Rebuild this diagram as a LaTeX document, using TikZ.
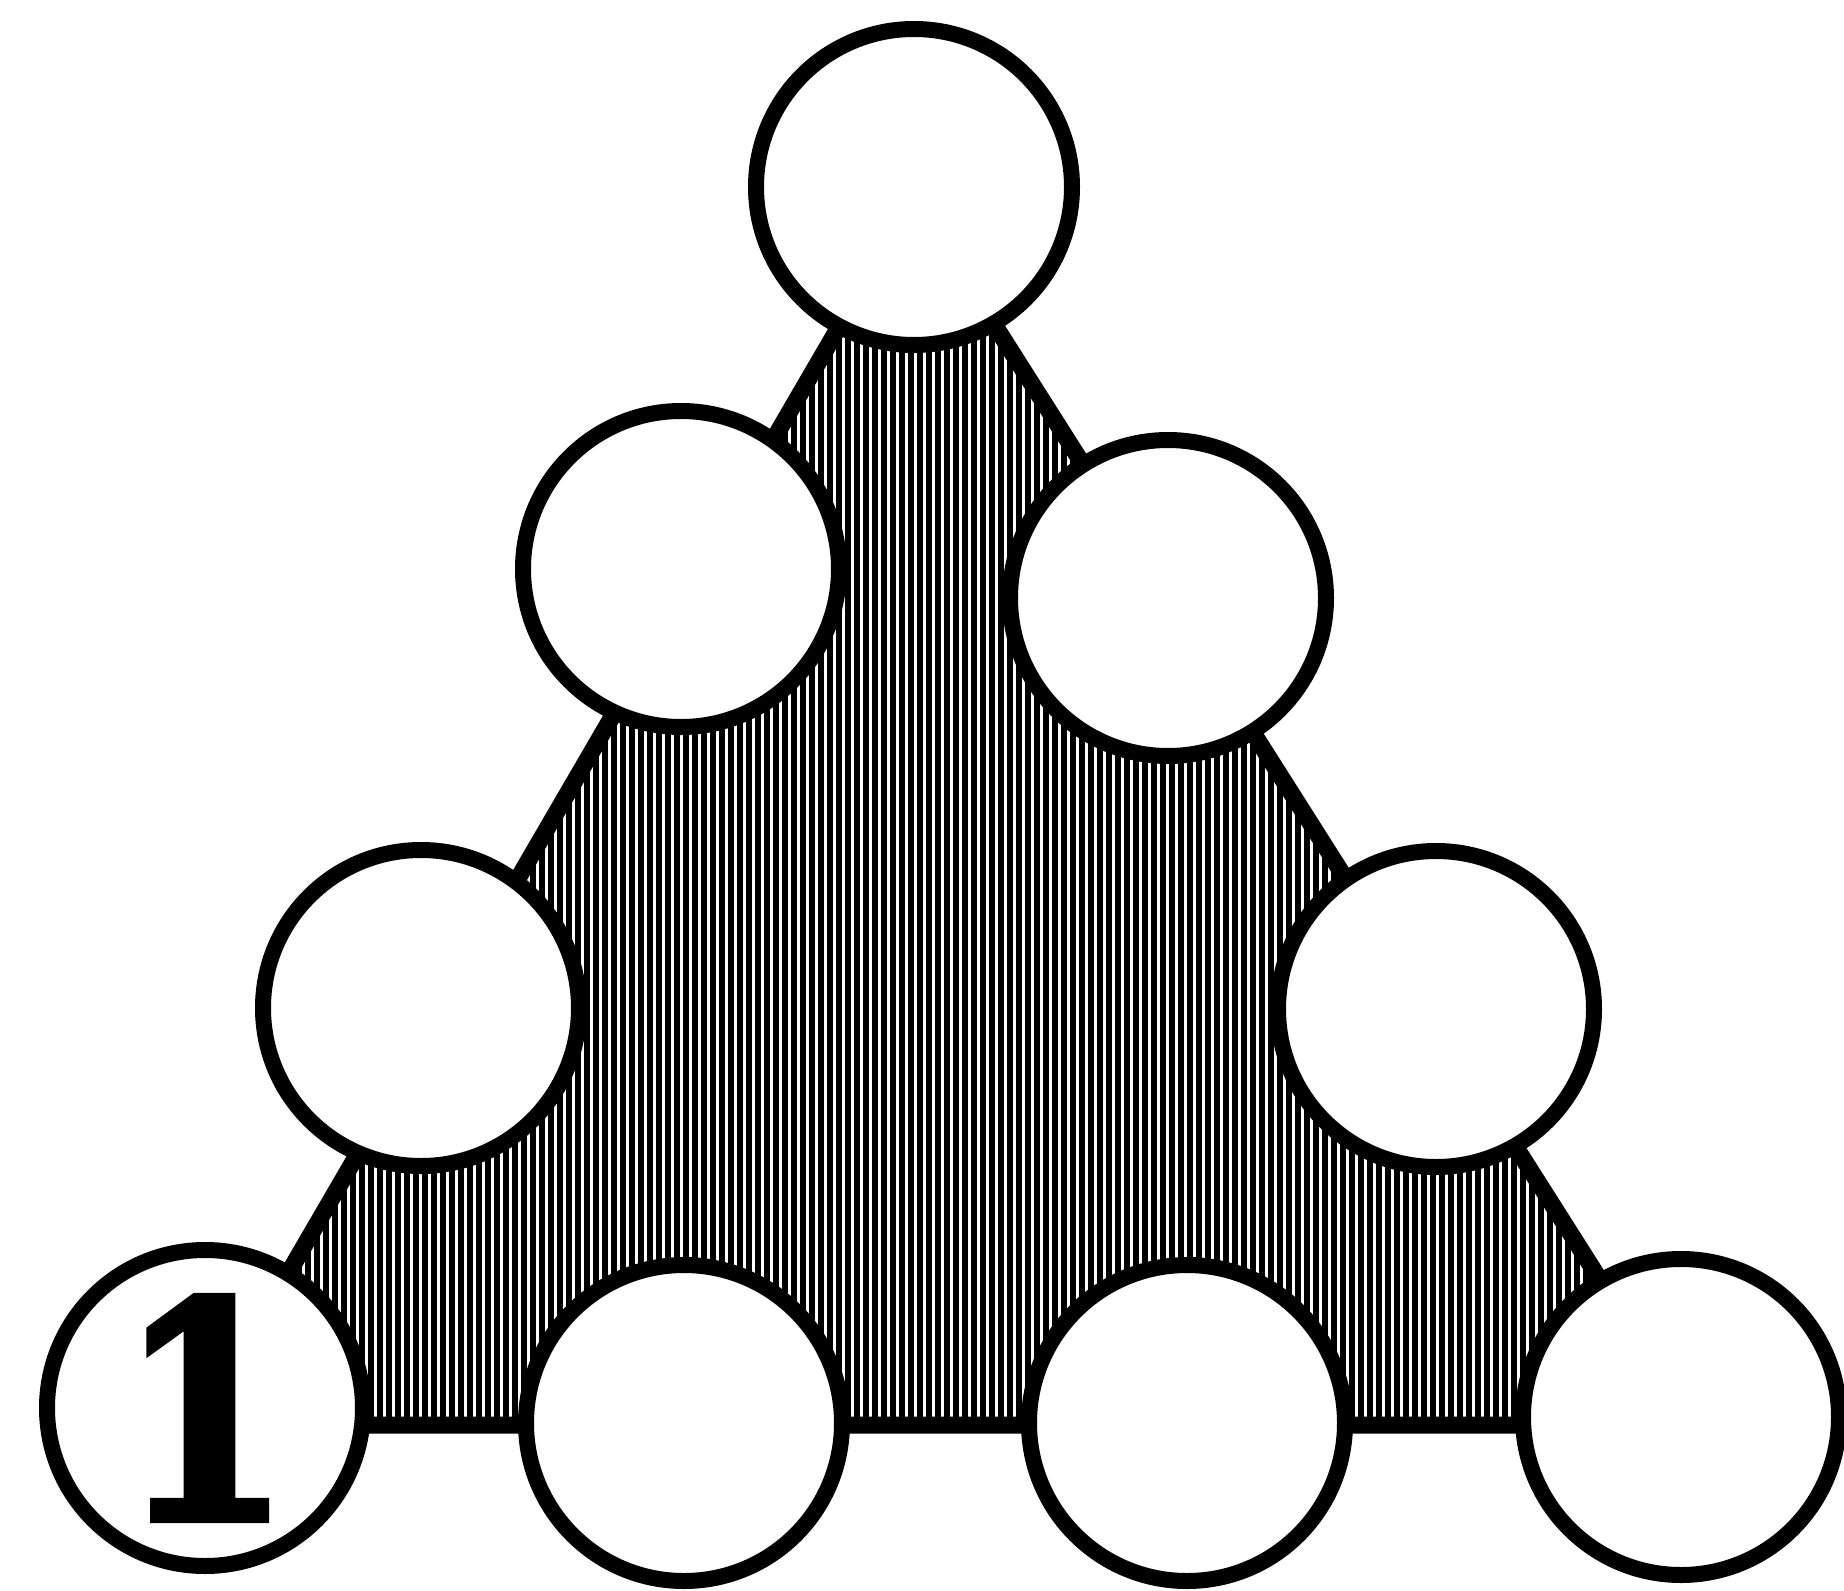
\documentclass[tikz,border=0pt]{standalone}
\usepackage{graphicx}
\usepackage{fontspec}
\newfontfamily\numfont{DejaVu Serif Bold}[FakeBold=2.5]
\begin{document}
\begin{tikzpicture}[x=0.5pt,y=-0.5pt,
  ball/.style={circle,draw=black,line width=8pt,fill=white,minimum size=158pt,inner sep=0pt},
  edge/.style={line width=8.5pt,line join=round},
  hatch/.style={line width=2.8pt}]
\useasboundingbox (0,0) rectangle (1844,1591);
\coordinate (A) at (914,198);
\coordinate (L) at (200,1425);
\coordinate (R) at (1692,1425);
\begin{scope}
\clip (A) -- (L) -- (R) -- cycle;
\foreach \i in {0,...,170} { \draw[hatch] ({200+9*\i},150) -- ({200+9*\i},1450); }
\end{scope}
\draw[edge] (A) -- (L) -- (R) -- cycle;
\node[ball] (top) at (914,187) {};
\node[ball] (r2l) at (681,569) {};
\node[ball] (r2r) at (1168,598) {};
\node[ball] (r3l) at (421,1008) {};
\node[ball] (r3r) at (1436,1009) {};
\node[ball,font=\numfont\fontsize{150pt}{150pt}\selectfont] (b1) at (205,1408) {\scalebox{0.82}[1]{1}};
\node[ball] (b2) at (684,1423) {};
\node[ball] (b3) at (1187,1423) {};
\node[ball] (b4) at (1681,1417) {};
\end{tikzpicture}
\end{document}
